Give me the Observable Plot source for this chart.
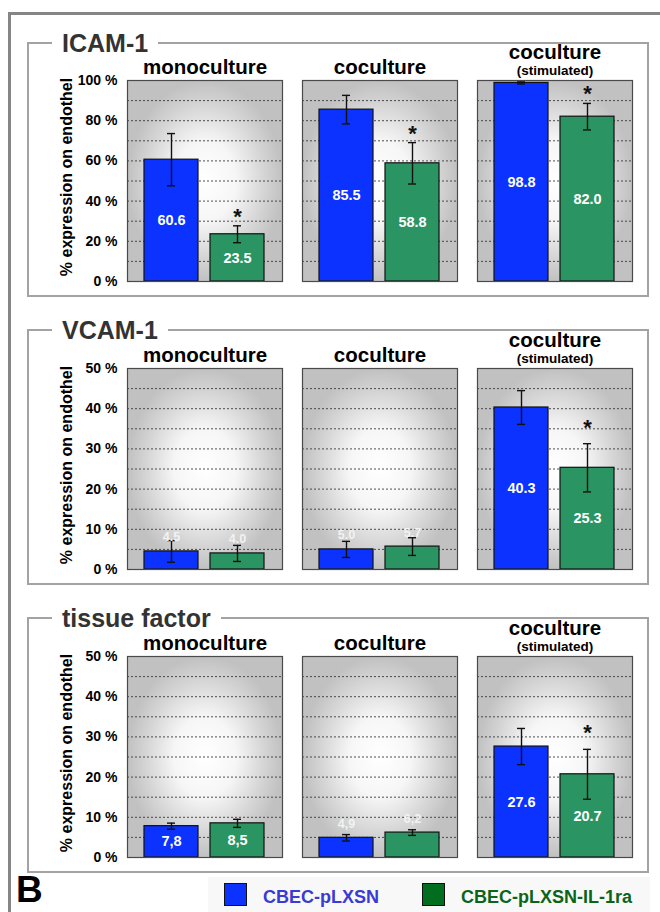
<!DOCTYPE html>
<html><head><meta charset="utf-8">
<script src="https://cdn.jsdelivr.net/npm/d3@7"></script>
<script src="https://cdn.jsdelivr.net/npm/@observablehq/plot@0.6"></script>
<style>
body{margin:0;background:#fff;}
#page{position:relative;width:660px;height:912px;overflow:hidden;background:#fff;font-family:"Liberation Sans",Arial,sans-serif;}
.outer{position:absolute;left:8px;top:12px;width:700px;height:960px;border:3px solid #858585;box-sizing:border-box;}
.box{position:absolute;left:27px;width:622px;border:2px solid #a3a3a3;box-sizing:border-box;}
.ttl{position:absolute;left:52px;padding:0 10px;background:#fff;font-weight:bold;font-size:25px;color:#333;line-height:28px;white-space:nowrap;z-index:5;}
.chart{position:absolute;left:0;z-index:2;overflow:visible;}
.big{position:absolute;left:16px;top:873px;font-size:37px;font-weight:bold;line-height:34px;height:34px;color:#000;}
.legbg{position:absolute;left:208px;top:877px;width:442px;height:35px;background:#f8f8f8;}
.sw{position:absolute;top:883px;width:23px;height:23px;border:1px solid #111;box-sizing:border-box;}
.lt{position:absolute;top:886px;font-size:18px;font-weight:bold;line-height:23px;white-space:nowrap;}
</style></head><body>
<svg width="0" height="0" style="position:absolute">
  <defs>
    <radialGradient id="bg" cx="0.5" cy="0.5" r="0.5">
      <stop offset="0" stop-color="#ffffff"/>
      <stop offset="0.4" stop-color="#f6f6f6"/>
      <stop offset="0.75" stop-color="#d6d6d6"/>
      <stop offset="1" stop-color="#c1c1c1"/>
    </radialGradient>
  </defs>
</svg>
<div id="page"></div>
<script>
// ---- data ----
const conditions = ["monoculture", "coculture", "coculture (stimulated)"];
const conditionTitles = ["monoculture", "coculture", "coculture"];
const conditionSubtitles = ["", "", "(stimulated)"];
const cells = ["CBEC-pLXSN", "CBEC-pLXSN-IL-1ra"];
const yLabel = "% expression on endothel";

const icamBlue = [60.6, 85.5, 98.8];
const icamBlueErr = [13.0, 7.1, 0.5];
const icamGreen = [23.5, 58.8, 82.0];
const icamGreenErr = [4.2, 10.3, 6.6];
const icamBlueLabels = ["60.6", "85.5", "98.8"];
const icamGreenLabels = ["23.5", "58.8", "82.0"];
const icamSig = [true, true, true];
const icamTicks = [0, 20, 40, 60, 80, 100];
const icamGrid = [10, 20, 30, 40, 50, 60, 70, 80, 90];

const vcamBlue = [4.5, 5.0, 40.3];
const vcamBlueErr = [2.7, 2.0, 4.2];
const vcamGreen = [4.0, 5.7, 25.3];
const vcamGreenErr = [2.0, 2.2, 6.0];
const vcamBlueLabels = ["4.5", "5.0", "40.3"];
const vcamGreenLabels = ["4.0", "5.7", "25.3"];
const vcamSig = [false, false, true];

const tfBlue = [7.8, 4.9, 27.6];
const tfBlueErr = [0.75, 0.8, 4.5];
const tfGreen = [8.5, 6.2, 20.7];
const tfGreenErr = [1.0, 0.7, 6.2];
const tfBlueLabels = ["7,8", "4,9", "27.6"];
const tfGreenLabels = ["8,5", "6,2", "20.7"];
const tfSig = [false, false, true];

const lowTicks = [0, 10, 20, 30, 40, 50];
const lowGrid = [5, 10, 15, 20, 25, 30, 35, 40, 45];

const barColors = ["#0b32ff", "#2a9562"];
const legendColors = ["#0b32ff", "#006e1e"];
const legendTextColors = ["#3a3ad4", "#0b6419"];

// ---- layout ----
const page = document.getElementById("page");
function el(cls, css, txt) {
  const d = document.createElement("div");
  d.className = cls;
  Object.assign(d.style, css || {});
  if (txt) d.textContent = txt;
  page.appendChild(d);
  return d;
}
el("outer");

function panel({title, boxTop, boxHeight, plotTop, blue, blueErr, green, greenErr, blueLabels, greenLabels, sig, max, ticks, grid, asterGap}) {
  el("box", {top: boxTop + "px", height: boxHeight + "px"});
  el("ttl", {top: (boxTop - 13) + "px"}, title);
  const rows = [];
  conditions.forEach((c, i) => {
    rows.push({cond: c, cell: cells[0], value: blue[i], err: blueErr[i], label: blueLabels[i], sig: false});
    rows.push({cond: c, cell: cells[1], value: green[i], err: greenErr[i], label: greenLabels[i], sig: sig[i]});
  });
  const plotH = 201, mTop = 50, mBottom = 16;
  const pxPerUnit = plotH / max;
  const inside = d => d.value * pxPerUnit > 28;
  const main = conditions.filter((c, i) => !conditionSubtitles[i]);
  const stim = conditions.filter((c, i) => conditionSubtitles[i]);
  const chart = Plot.plot({
    width: 660, height: plotH + mTop + mBottom, marginTop: mTop, marginBottom: mBottom, marginLeft: 126, marginRight: 27,
    style: {background: "transparent", overflow: "visible", fontFamily: "'Liberation Sans', Arial, sans-serif", fontSize: "14px", fontWeight: "bold", color: "#000"},
    fx: {domain: conditions, paddingInner: 0.114, paddingOuter: 0, axis: null, label: null},
    x: {domain: cells, paddingInner: 0.179, paddingOuter: 0.254, axis: null},
    y: {domain: [0, max], ticks: ticks, tickFormat: d => d + " %", tickSize: 0, tickPadding: 10, label: null},
    color: {domain: cells, range: barColors},
    marks: [
      Plot.frame({fill: "url(#bg)"}),
      Plot.ruleY(grid, {stroke: "#333", strokeWidth: 1, strokeDasharray: "2,2", strokeOpacity: 0.85}),
      Plot.barY(rows, {fx: "cond", x: "cell", y: "value", fill: "cell", stroke: "#111", strokeWidth: 1.2}),
      Plot.ruleX(rows, {fx: "cond", x: "cell", y1: d => d.value - d.err, y2: d => d.value + d.err, stroke: "#111", strokeWidth: 1.4}),
      Plot.tickY(rows, {fx: "cond", x: "cell", y: d => d.value - d.err, insetLeft: 23, insetRight: 23, stroke: "#111", strokeWidth: 1.4}),
      Plot.tickY(rows, {fx: "cond", x: "cell", y: d => d.value + d.err, insetLeft: 23, insetRight: 23, stroke: "#111", strokeWidth: 1.4}),
      Plot.text(rows.filter(inside), {fx: "cond", x: "cell", y: d => d.value / 2, text: "label", fill: "#fff", fontSize: 14.5}),
      Plot.text(rows.filter(d => !inside(d)), {fx: "cond", x: "cell", y: "value", dy: -14, text: "label", fill: "#f2f2f2", fontSize: 12.5}),
      Plot.text(rows.filter(d => d.sig), {fx: "cond", x: "cell", y: d => d.value + d.err, dy: -asterGap, text: () => "*", fill: "#111", fontSize: 22}),
      Plot.text(main, {fx: d => d, frameAnchor: "top", lineAnchor: "middle", textAnchor: "middle", dy: -13, text: d => conditionTitles[conditions.indexOf(d)], fontSize: 20.5, fill: "#000"}),
      Plot.text(stim, {fx: d => d, frameAnchor: "top", lineAnchor: "middle", textAnchor: "middle", dy: -28, text: d => conditionTitles[conditions.indexOf(d)], fontSize: 20.5, fill: "#000"}),
      Plot.text(stim, {fx: d => d, frameAnchor: "top", lineAnchor: "middle", textAnchor: "middle", dy: -10, text: d => conditionSubtitles[conditions.indexOf(d)], fontSize: 13.5, fill: "#000"}),
      Plot.text([conditions[0]], {fx: d => d, frameAnchor: "left", textAnchor: "middle", lineAnchor: "middle", dx: -61, dy: -4, rotate: -90, text: () => yLabel, fontSize: 16, fill: "#000"}),
      Plot.frame({stroke: "#4a4a4a", strokeWidth: 1.2})
    ]
  });
  chart.classList.add("chart");
  chart.style.top = (plotTop - mTop) + "px";
  page.appendChild(chart);
}

panel({title: "ICAM-1", boxTop: 42, boxHeight: 255, plotTop: 80, blue: icamBlue, blueErr: icamBlueErr, green: icamGreen, greenErr: icamGreenErr,
  blueLabels: icamBlueLabels, greenLabels: icamGreenLabels, sig: icamSig, max: 100, ticks: icamTicks, grid: icamGrid, asterGap: 9});
panel({title: "VCAM-1", boxTop: 329, boxHeight: 256, plotTop: 368, blue: vcamBlue, blueErr: vcamBlueErr, green: vcamGreen, greenErr: vcamGreenErr,
  blueLabels: vcamBlueLabels, greenLabels: vcamGreenLabels, sig: vcamSig, max: 50, ticks: lowTicks, grid: lowGrid, asterGap: 16});
panel({title: "tissue factor", boxTop: 617, boxHeight: 256, plotTop: 656, blue: tfBlue, blueErr: tfBlueErr, green: tfGreen, greenErr: tfGreenErr,
  blueLabels: tfBlueLabels, greenLabels: tfGreenLabels, sig: tfSig, max: 50, ticks: lowTicks, grid: lowGrid, asterGap: 16});

// ---- footer: panel letter and legend ----
el("big", {}, "B");
el("legbg");
const swX = [224, 422], txX = [263, 461];
cells.forEach((c, i) => {
  el("sw", {left: swX[i] + "px", background: legendColors[i]});
  el("lt", {left: txX[i] + "px", color: legendTextColors[i]}, c);
});
</script>
</body></html>
